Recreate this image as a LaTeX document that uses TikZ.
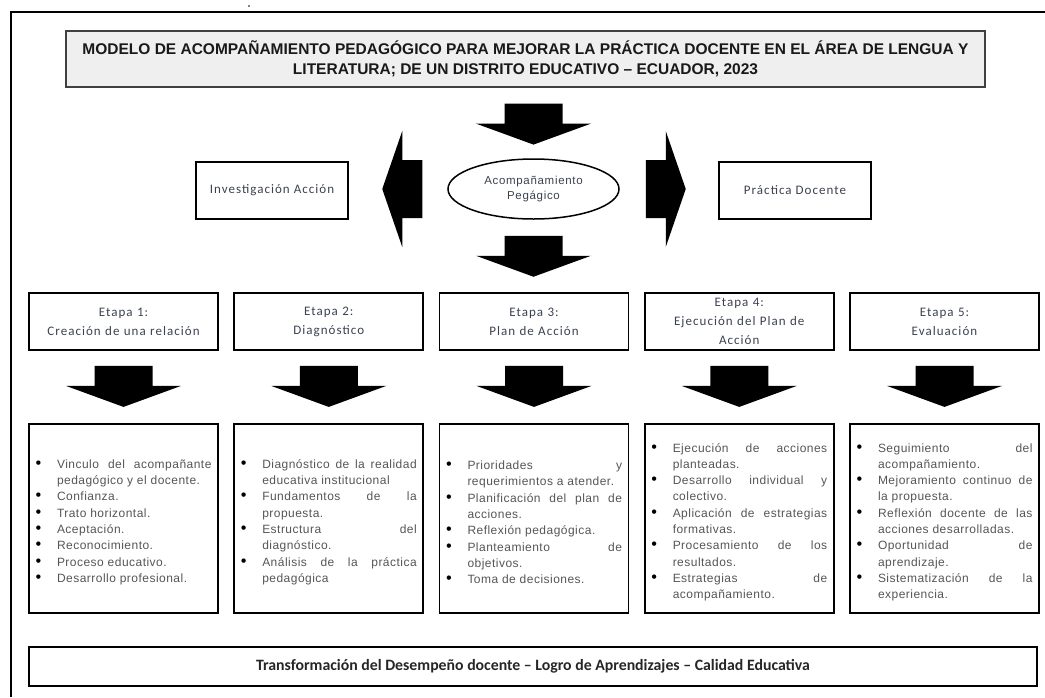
\documentclass[tikz,border=0pt]{standalone}
\usepackage{fontspec}
\usepackage{enumitem}
\usetikzlibrary{shapes.geometric}
\setmainfont{Liberation Sans}
\newfontfamily\listafont[LetterSpace=4]{Liberation Sans}
\newfontfamily\elipsefont[LetterSpace=6]{Liberation Sans}
\newfontfamily\etapafont[LetterSpace=8]{Carlito}
\newfontfamily\piefont{Carlito}
\definecolor{textoetapa}{HTML}{3B4150}
\definecolor{textolista}{HTML}{555555}
\definecolor{fondotitulo}{HTML}{EFEFEF}
\newcommand{\lista}[1]{\begin{itemize}[leftmargin=21.5pt,labelwidth=8pt,labelsep=13.5pt,align=left,nosep,
    label={\color{black}\scalebox{1.35}{\textbullet}}]#1\end{itemize}}

\begin{document}
\begin{tikzpicture}[x=1pt,y=-1pt,
    caja/.style={draw,line width=1.8pt,inner sep=0pt},
    etapa/.style={caja,minimum width=189pt,minimum height=57pt,text width=175pt,inner xsep=7pt,align=center,
      font=\etapafont\fontsize{13}{19}\selectfont,text=textoetapa},
    contenido/.style={caja,minimum height=189pt,text width=176pt,inner xsep=6.5pt,align=justify,
      font=\listafont\fontsize{12}{16.3}\selectfont,text=textolista},
    bajar/.pic={\fill (-29,0) -- (29,0) -- (29,20) -- (57.5,20) -- (0,41) -- (-57.5,20) -- (-29,20) -- cycle;},
    lado/.pic={\fill (0,0) -- (20,-58) -- (20,-29) -- (40,-29) -- (40,29) -- (20,29) -- (20,58) -- cycle;}]
    \useasboundingbox (0,0) rectangle (1045,697);
    \draw[line width=1.5pt] (11,697) -- (11,12) -- (1045,12);
    \fill (249,6) circle (0.9);

    \node[caja,line width=1.2pt,draw=black!75,fill=fondotitulo,minimum width=919pt,minimum height=56pt,align=center,
      font=\bfseries\fontsize{15.5}{20}\selectfont,text=black!90] (titulo) at (525.5,59)
      {MODELO DE ACOMPAÑAMIENTO PEDAGÓGICO PARA MEJORAR LA PRÁCTICA DOCENTE EN EL ÁREA DE LENGUA Y\\
       LITERATURA; DE UN DISTRITO EDUCATIVO – ECUADOR, 2023};

    \node[ellipse,draw,line width=1.5pt,minimum width=171pt,minimum height=60pt,inner sep=0pt,align=center,
      font=\elipsefont\fontsize{11.5}{15}\selectfont,text=textoetapa] (acomp) at (533.5,189) {Acompañamiento\\Pegágico};
    \node[caja,minimum width=152pt,minimum height=57pt,font=\etapafont\fontsize{13}{19}\selectfont,text=textoetapa]
      (inv) at (272,190.5) {Investigación Acción};
    \node[caja,minimum width=152pt,minimum height=57pt,font=\etapafont\fontsize{13}{19}\selectfont,text=textoetapa]
      (prac) at (795,190.5) {Práctica Docente};

    \coordinate (arriba) at (acomp.north |- titulo.south);
    \pic at ([yshift=-16pt]arriba) {bajar};
    \pic at ([yshift=-16pt]acomp.south) {bajar};
    \pic at ([xshift=-65pt]acomp.west) {lado};
    \pic[xscale=-1] at ([xshift=66pt]acomp.east) {lado};

    \node[etapa] (e1) at (123.5,321.5) {Etapa 1:\\Creación de una relación};
    \node[etapa] (e2) at (328.75,321.5) {Etapa 2:\\Diagnóstico};
    \node[etapa] (e3) at (534,321.5) {Etapa 3:\\Plan de Acción};
    \node[etapa] (e4) at (739.25,321.5) {Etapa 4:\\Ejecución del Plan de\\Acción};
    \node[etapa] (e5) at (944.5,321.5) {Etapa 5:\\Evaluación};
    \foreach \n in {1,...,5}
      \pic at ([yshift=-15pt]e\n.south) {bajar};

    \node[contenido] (c1) at (123.5,518.5) {\lista{
      \item Vinculo del acompañante\linebreak pedagógico y el docente.
      \item Confianza.
      \item Trato horizontal.
      \item Aceptación.
      \item Reconocimiento.
      \item Proceso educativo.
      \item Desarrollo profesional.}};
    \node[contenido] (c2) at (328.75,518.5) {\lista{
      \item Diagnóstico de la realidad\linebreak educativa institucional
      \item Fundamentos de la\linebreak propuesta.
      \item Estructura del\linebreak diagnóstico.
      \item Análisis de la práctica\linebreak pedagógica}};
    \node[contenido] (c3) at (534,518.5) {\lista{
      \item Prioridades y\linebreak requerimientos a atender.
      \item Planificación del plan de\linebreak acciones.
      \item Reflexión pedagógica.
      \item Planteamiento de\linebreak objetivos.
      \item Toma de decisiones.}};
    \node[contenido] (c4) at (739.25,518.5) {\lista{
      \item Ejecución de acciones\linebreak planteadas.
      \item Desarrollo individual y\linebreak colectivo.
      \item Aplicación de estrategias\linebreak formativas.
      \item Procesamiento de los\linebreak resultados.
      \item Estrategias de\linebreak acompañamiento.}};
    \node[contenido] (c5) at (944.5,518.5) {\lista{
      \item Seguimiento del\linebreak acompañamiento.
      \item Mejoramiento continuo de\linebreak la propuesta.
      \item Reflexión docente de las\linebreak acciones desarrolladas.
      \item Oportunidad de\linebreak aprendizaje.
      \item Sistematización de la\linebreak experiencia.}};

    \node[caja,minimum width=1008pt,minimum height=39pt,font=\piefont\bfseries\fontsize{15.8}{18}\selectfont,text=black!85]
      (pie) at (533,666.5) {Transformación del Desempeño docente – Logro de Aprendizajes – Calidad Educativa};
\end{tikzpicture}
\end{document}
